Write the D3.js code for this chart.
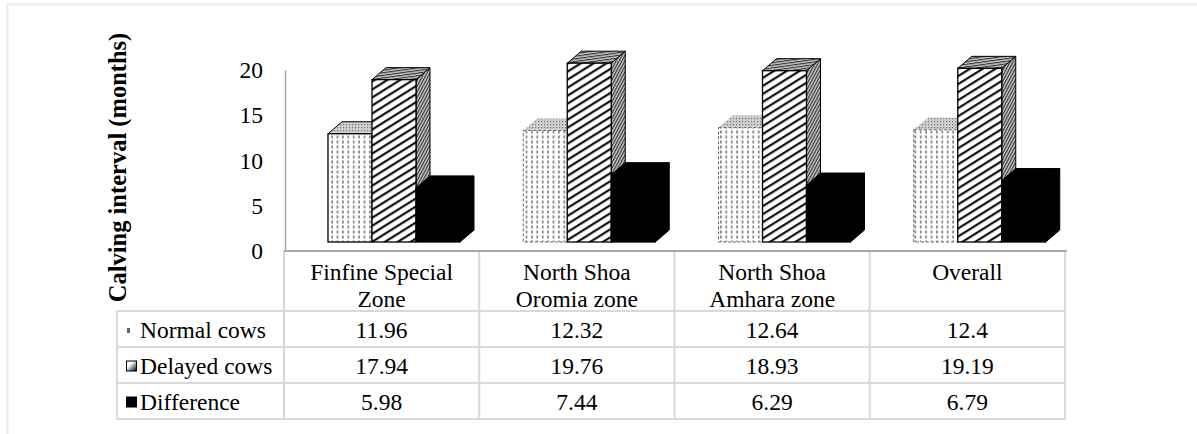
<!DOCTYPE html>
<html>
<head>
<meta charset="utf-8">
<script src="https://cdn.jsdelivr.net/npm/d3@7"></script>
<style>
  html, body { margin: 0; padding: 0; background: #fff; }
  svg { display: block; font-family: "Liberation Serif", "Times New Roman", serif; }
</style>
</head>
<body>
<svg id="chart" width="1197" height="434"></svg>
<script>
// Calving interval by zone
const categories = ["Finfine Special Zone", "North Shoa Oromia zone", "North Shoa Amhara zone", "Overall"];
const categoryLines = [["Finfine Special", "Zone"], ["North Shoa", "Oromia zone"], ["North Shoa", "Amhara zone"], ["Overall"]];
const seriesNames = ["Normal cows", "Delayed cows", "Difference"];
const normalCows = [11.96, 12.32, 12.64, 12.4];
const delayedCows = [17.94, 19.76, 18.93, 19.19];
const difference = [5.98, 7.44, 6.29, 6.79];
const valueLabels = [["11.96", "12.32", "12.64", "12.4"], ["17.94", "19.76", "18.93", "19.19"], ["5.98", "7.44", "6.29", "6.79"]];
const yTicks = [0, 5, 10, 15, 20];
const seriesValues = [normalCows, delayedCows, difference];

const svg = d3.select("#chart");
const FONT = 23.5;

// frame
svg.append("rect").attr("x", 7.5).attr("y", 4.5).attr("width", 1200).attr("height", 440)
  .attr("fill", "none").attr("stroke", "#eeeae0").attr("stroke-width", 2);

// fill patterns
const defs = svg.append("defs");
const dots = defs.append("pattern").attr("id", "normalFront").attr("patternUnits", "userSpaceOnUse")
  .attr("width", 5.4).attr("height", 5);
dots.append("rect").attr("width", 5.4).attr("height", 5).attr("fill", "#fff");
dots.append("rect").attr("x", 1.8).attr("y", 0.5).attr("width", 1.8).attr("height", 3).attr("fill", "#8c8c8c");

const dotsTop = defs.append("pattern").attr("id", "normalTop").attr("patternUnits", "userSpaceOnUse")
  .attr("width", 3).attr("height", 3);
dotsTop.append("rect").attr("width", 3).attr("height", 3).attr("fill", "#cfcfcf");
dotsTop.append("rect").attr("x", 1).attr("y", 1).attr("width", 1.2).attr("height", 1.2).attr("fill", "#777");

function hatch(id, angle, gap, width, bg, fg) {
  const p = defs.append("pattern").attr("id", id).attr("patternUnits", "userSpaceOnUse")
    .attr("width", 20).attr("height", gap).attr("patternTransform", `rotate(${angle})`);
  p.append("rect").attr("width", 20).attr("height", gap).attr("fill", bg);
  p.append("rect").attr("x", 0).attr("y", 0).attr("width", 20).attr("height", width).attr("fill", fg);
}
hatch("delayedFront", -32, 6.8, 2.2, "#fff", "#111");
hatch("delayedTop", -8, 2.6, 1.1, "#c4c4c4", "#333");
hatch("delayedSide", -62, 2.6, 1.1, "#c4c4c4", "#333");

const keyGrad = defs.append("linearGradient").attr("id", "keyGrad")
  .attr("x1", "0").attr("y1", "0").attr("x2", "1").attr("y2", "1");
keyGrad.append("stop").attr("offset", "0.35").attr("stop-color", "#fff");
keyGrad.append("stop").attr("offset", "1").attr("stop-color", "#000");

// scales
const x = d3.scaleBand().domain(categories).range([284, 1065]).padding(0);
const xs = d3.scaleBand().domain(seriesNames).range([44, 176]).padding(0);
const y = d3.scaleLinear().domain([0, 20]).range([251, 70]);
const floorShift = 9;          // bars stand slightly in front of the wall
const depth = { dx: 14, dy: -12 };

// value axis
const yAxis = svg.append("g").attr("transform", "translate(285,0)")
  .call(d3.axisLeft(y).tickValues(yTicks).tickSize(0).tickSizeOuter(0).tickPadding(22).tickFormat(d3.format("d")));
yAxis.select(".domain").attr("stroke", "#a6a6a6").attr("stroke-width", 1.5);
yAxis.selectAll("text").attr("font-size", FONT).attr("font-family", "Liberation Serif").attr("fill", "#000");

svg.append("text")
  .attr("transform", `translate(126,${(33 + 302) / 2}) rotate(-90)`)
  .attr("text-anchor", "middle").attr("font-weight", "bold").attr("font-size", 24.5)
  .text("Calving interval (months)");

// 3D columns
const faceStyles = [
  { front: "url(#normalFront)", top: "url(#normalTop)", side: "url(#normalTop)" },
  { front: "url(#delayedFront)", top: "url(#delayedTop)", side: "url(#delayedSide)" },
  { front: "#000", top: "#000", side: "#000" }
];
const bars = svg.append("g");
categories.forEach((c, ci) => {
  seriesNames.forEach((s, si) => {
    const v = seriesValues[si][ci];
    const x0 = x(c) + xs(s), w = xs.bandwidth();
    const yt = y(v) - floorShift, yb = y(0) - floorShift;
    const { dx, dy } = depth;
    const st = faceStyles[si];
    const g = bars.append("g");
    let stroke = "#000", sw = 1.3, dash = null;
    if (si === 0 && ci > 0) { stroke = "#666"; sw = 1; dash = "3,2"; }
    g.append("polygon")
      .attr("points", [[x0 + w, yt], [x0 + w + dx, yt + dy], [x0 + w + dx, yb + dy], [x0 + w, yb]].join(" "))
      .attr("fill", st.side).attr("stroke", si === 0 ? "none" : "#000").attr("stroke-width", 1);
    g.append("polygon")
      .attr("points", [[x0, yt], [x0 + dx, yt + dy], [x0 + w + dx, yt + dy], [x0 + w, yt]].join(" "))
      .attr("fill", st.top).attr("stroke", si === 0 && ci > 0 ? "none" : "#000").attr("stroke-width", 1);
    g.append("rect").attr("x", x0).attr("y", yt).attr("width", w).attr("height", yb - yt)
      .attr("fill", st.front).attr("stroke", stroke).attr("stroke-width", sw)
      .attr("stroke-dasharray", dash);
  });
});

// data table
const rowY = d3.scaleBand().domain(seriesNames).range([311, 419]).padding(0);
const grid = svg.append("g").attr("stroke", "#d9d9d9").attr("stroke-width", 2);
const colEdges = categories.map(c => x(c)).concat([x.range()[1]]);
grid.selectAll("line.v").data(colEdges).join("line")
  .attr("x1", d => d).attr("x2", d => d).attr("y1", 251).attr("y2", 419);
grid.append("line").attr("x1", 117).attr("x2", 117).attr("y1", 311).attr("y2", 419);
const rowEdges = seriesNames.map(s => rowY(s)).concat([rowY.range()[1]]);
grid.selectAll("line.h").data(rowEdges).join("line")
  .attr("x1", 117).attr("x2", 1066).attr("y1", d => d).attr("y2", d => d);

// category axis line
svg.append("line").attr("x1", 284).attr("x2", 1067).attr("y1", 251).attr("y2", 251)
  .attr("stroke", "#a6a6a6").attr("stroke-width", 2);

// header labels
const header = svg.append("g").attr("font-size", FONT).attr("text-anchor", "middle");
categories.forEach((c, ci) => {
  categoryLines[ci].forEach((line, li) => {
    header.append("text").attr("x", x(c) + x.bandwidth() / 2).attr("y", 272 + li * 27)
      .attr("dominant-baseline", "central").text(line);
  });
});

// value cells
const cells = svg.append("g").attr("font-size", FONT).attr("text-anchor", "middle");
seriesNames.forEach((s, si) => {
  categories.forEach((c, ci) => {
    cells.append("text").attr("x", x(c) + x.bandwidth() / 2).attr("y", rowY(s) + rowY.bandwidth() / 2 + 1)
      .attr("dominant-baseline", "central").text(valueLabels[si][ci]);
  });
});

// series labels with keys
const legend = svg.append("g").attr("font-size", FONT);
seriesNames.forEach((s, si) => {
  const cy = rowY(s) + rowY.bandwidth() / 2 + 1;
  legend.append("text").attr("x", 140).attr("y", cy).attr("dominant-baseline", "central").text(s);
  if (si === 0) {
    legend.append("rect").attr("x", 127).attr("y", cy - 2).attr("width", 3).attr("height", 5).attr("fill", "#666");
  } else if (si === 1) {
    legend.append("rect").attr("x", 126.5).attr("y", cy - 5).attr("width", 10).attr("height", 10)
      .attr("fill", "url(#keyGrad)").attr("stroke", "#000").attr("stroke-width", 1);
  } else {
    legend.append("rect").attr("x", 126).attr("y", cy - 5.5).attr("width", 11).attr("height", 11).attr("fill", "#000");
  }
});
</script>
</body>
</html>
